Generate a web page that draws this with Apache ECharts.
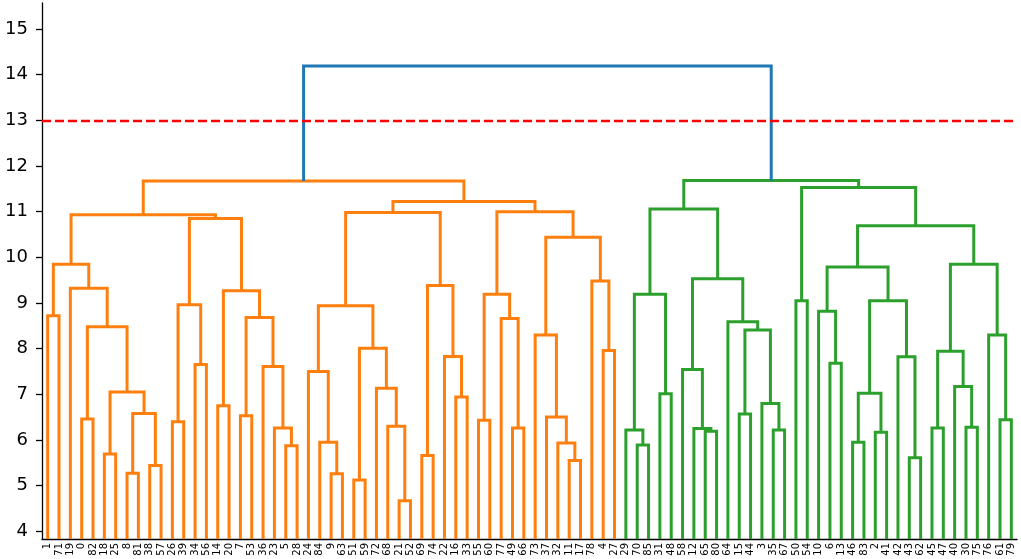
<!DOCTYPE html>
<html lang="en">
<head>
    <meta charset="utf-8">
    <title>Dendrogram</title>
    <script src="https://cdn.jsdelivr.net/npm/echarts@6/dist/echarts.min.js"></script>
    <style>
        html, body { margin: 0; padding: 0; background: #fff; }
        #main { width: 1021px; height: 559px; }
    </style>
</head>
<body>
<div id="main"></div>
<script type="text/javascript">
// leaf labels, left to right
var leafOrder = [1, 71, 19, 0, 82, 18, 25, 8, 81, 38, 57, 26, 39, 34, 56, 14, 20, 7, 53, 36,
    23, 5, 28, 24, 84, 9, 63, 51, 59, 72, 68, 21, 52, 69, 74, 22, 16, 33, 55, 60,
    77, 49, 66, 73, 37, 32, 11, 17, 78, 4, 27,
    29, 70, 85, 31, 48, 58, 12, 65, 80, 64, 15, 44, 3, 35, 67, 50, 54, 10, 6,
    13, 46, 83, 2, 41, 42, 43, 62, 45, 47, 40, 30, 75, 76, 61, 79];

// merges: [left, right, height]; numbers are leaves, 'cN' is the N-th merge
var merges = [
    [8, 81, 5.27], [38, 57, 5.44], ['c0', 'c1', 6.58], [18, 25, 5.69], ['c3', 'c2', 7.05],
    [0, 82, 6.46], ['c5', 'c4', 8.48], [19, 'c6', 9.32], [1, 71, 8.72], ['c8', 'c7', 9.85],
    [26, 39, 6.40], [34, 56, 7.65], ['c10', 'c11', 8.96], [5, 28, 5.87], [23, 'c13', 6.26],
    [36, 'c14', 7.61], [7, 53, 6.53], ['c16', 'c15', 8.68], [14, 20, 6.75], ['c18', 'c17', 9.27],
    ['c12', 'c19', 10.85], ['c9', 'c20', 10.93],
    [9, 63, 5.26], [84, 'c22', 5.95], [24, 'c23', 7.50], [21, 52, 4.67], [68, 'c25', 6.30],
    [72, 'c26', 7.13], [51, 59, 5.12], ['c28', 'c27', 8.01], ['c24', 'c29', 8.94], [16, 33, 6.94],
    [22, 'c31', 7.83], [69, 74, 5.66], ['c33', 'c32', 9.38], ['c30', 'c34', 10.98],
    [55, 60, 6.43], [49, 66, 6.26], [77, 'c37', 8.66], ['c36', 'c38', 9.19], [11, 17, 5.55],
    [32, 'c40', 5.93], [37, 'c41', 6.50], [73, 'c42', 8.30], [4, 27, 7.96], [78, 'c44', 9.48],
    ['c43', 'c45', 10.44], ['c39', 'c46', 11.00], ['c35', 'c47', 11.22], ['c21', 'c48', 11.67],
    [70, 85, 5.89], [29, 'c50', 6.22], [31, 48, 7.01], ['c51', 'c52', 9.19], [65, 80, 6.19],
    [12, 'c54', 6.25], [58, 'c55', 7.54], [35, 67, 6.22], [3, 'c57', 6.80], [15, 44, 6.57],
    ['c59', 'c58', 8.41], [64, 'c60', 8.59], ['c56', 'c61', 9.53], ['c53', 'c62', 11.06],
    [50, 54, 9.05], [6, 13, 7.68], [10, 'c65', 8.82], [46, 83, 5.95], [2, 41, 6.17],
    ['c67', 'c68', 7.02], [43, 62, 5.61], [42, 'c70', 7.82], ['c69', 'c71', 9.05], ['c66', 'c72', 9.79],
    [30, 75, 6.28], [40, 'c74', 7.17], [45, 47, 6.26], ['c76', 'c75', 7.94], [61, 79, 6.44],
    [76, 'c78', 8.30], ['c77', 'c79', 9.85], ['c73', 'c80', 10.69], ['c64', 'c81', 11.53],
    ['c63', 'c82', 11.68], ['c49', 'c83', 14.19]
];

var cutHeight = 13;
var yTicks = [4, 5, 6, 7, 8, 9, 10, 11, 12, 13, 14, 15];
var palette = ['#ff7f0e', '#2ca02c'];
var aboveColor = '#1f77b4';
var yMin = 3.83, yMax = 15.57;

// node positions
var nodeX = {}, nodeY = {};
leafOrder.forEach(function (leaf, i) {
    nodeX[leaf] = 10 * i + 5;
    nodeY[leaf] = yMin;
});
merges.forEach(function (m, i) {
    var id = 'c' + i;
    nodeX[id] = (nodeX[m[0]] + nodeX[m[1]]) / 2;
    nodeY[id] = m[2];
});

// colour each link by its cluster below the cut
var linkColor = {};
var nextColor = 0;
function paint(id, color) {
    if (typeof id === 'number') return;
    var m = merges[+id.slice(1)];
    if (color == null && m[2] < cutHeight) {
        color = palette[nextColor % palette.length];
        nextColor++;
    }
    linkColor[id] = color == null ? aboveColor : color;
    paint(m[0], color);
    paint(m[1], color);
}
paint('c' + (merges.length - 1), null);

var linkData = merges.map(function (m, i) {
    var id = 'c' + i;
    return {
        coords: [
            [nodeX[m[0]], nodeY[m[0]]],
            [nodeX[m[0]], m[2]],
            [nodeX[m[1]], m[2]],
            [nodeX[m[1]], nodeY[m[1]]]
        ],
        lineStyle: { color: linkColor[id] }
    };
});

var myChart = echarts.init(document.getElementById('main'));

option = {
    animation: false,
    backgroundColor: '#fff',
    grid: { left: 42, right: 4, top: 3, bottom: 20, containLabel: false, outerBoundsMode: 'none' },
    xAxis: [{
        type: 'value',
        min: 0,
        max: 10 * leafOrder.length,
        show: false
    }, {
        type: 'category',
        position: 'bottom',
        data: leafOrder.map(String),
        boundaryGap: true,
        axisLine: { show: true, lineStyle: { color: '#000', width: 1.3 } },
        axisTick: { show: false },
        axisLabel: {
            interval: 0,
            rotate: 90,
            margin: 4,
            fontSize: 10,
            color: '#000',
            fontFamily: 'DejaVu Sans'
        },
        splitLine: { show: false }
    }],
    yAxis: {
        type: 'value',
        min: yMin,
        max: yMax,
        minInterval: 1,
        maxInterval: 1,
        splitLine: { show: false },
        axisLine: { show: true, lineStyle: { color: '#000', width: 1.3 } },
        axisTick: { show: true, length: 6, lineStyle: { color: '#000', width: 1.3 } },
        axisLabel: {
            margin: 14,
            fontSize: 18,
            color: '#000',
            fontFamily: 'DejaVu Sans',
            showMinLabel: false,
            showMaxLabel: false,
            formatter: function (v) {
                return yTicks.indexOf(v) >= 0 ? String(v) : '';
            }
        }
    },
    series: [{
        type: 'lines',
        coordinateSystem: 'cartesian2d',
        xAxisIndex: 0,
        yAxisIndex: 0,
        polyline: true,
        silent: true,
        lineStyle: { width: 3, opacity: 1, cap: 'butt', join: 'miter' },
        data: linkData,
        markLine: {
            silent: true,
            symbol: 'none',
            label: { show: false },
            lineStyle: { color: '#ff0000', type: [9, 4], width: 2.4 },
            data: [{ yAxis: cutHeight }]
        }
    }]
};

myChart.setOption(option);
</script>
</body>
</html>
